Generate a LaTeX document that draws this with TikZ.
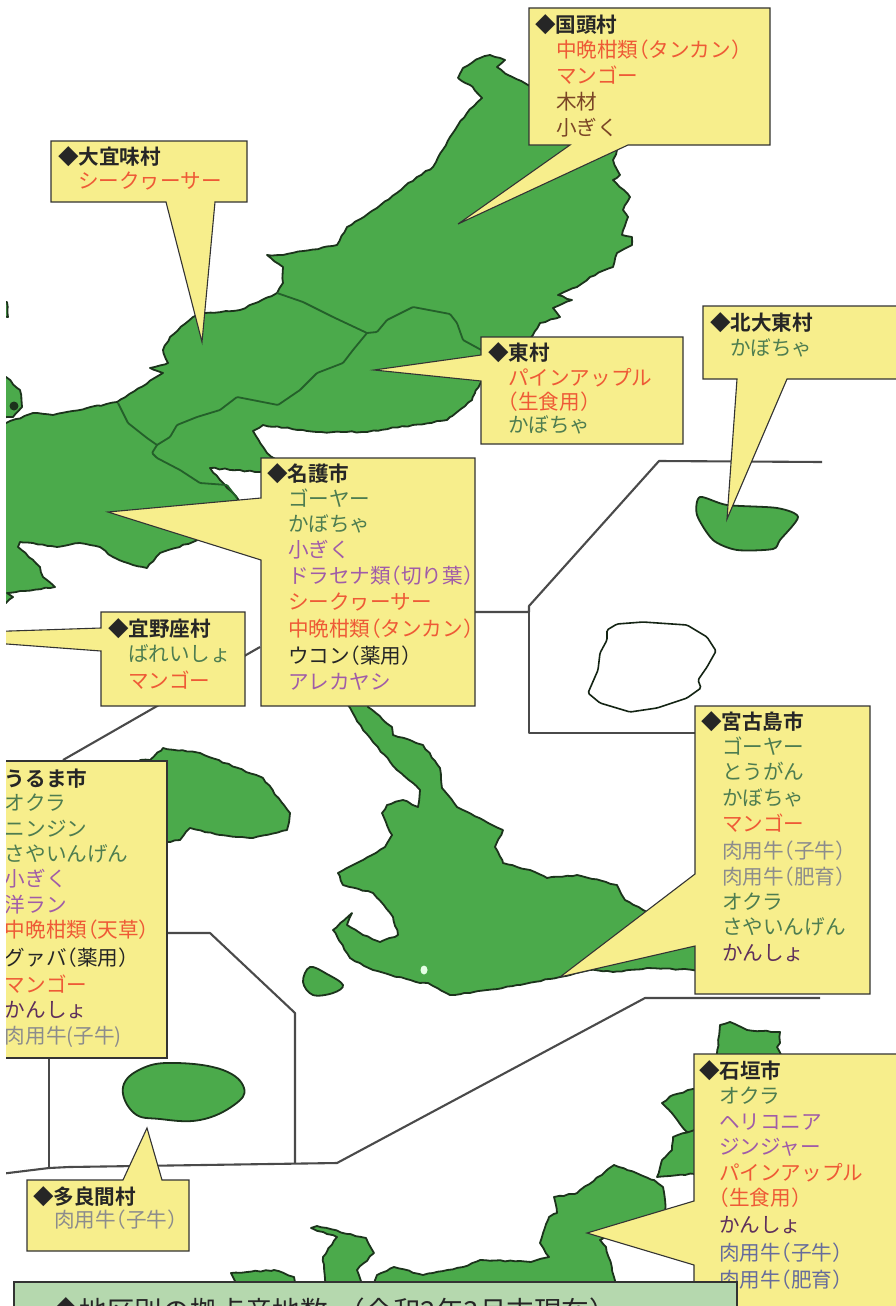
\documentclass[tikz,border=0pt]{standalone}
\usepackage{fontspec}
\usetikzlibrary{decorations.pathmorphing}
\setmainfont{Noto Sans CJK JP}
\newfontfamily\jpb{Noto Sans CJK JP Bold}
\newfontfamily\hw[RawFeature=+halt]{Noto Sans CJK JP}
\newcommand{\lp}{{\hw （}}
\newcommand{\rp}{{\hw ）}}
\definecolor{mapgreen}{HTML}{4BAA4B}
\definecolor{coast}{HTML}{1C331C}
\definecolor{border}{HTML}{24602A}
\definecolor{frameline}{HTML}{4A4A4A}
\definecolor{callfill}{HTML}{F7EE8C}
\definecolor{callline}{HTML}{333333}
\definecolor{panelfill}{HTML}{B5D8AE}
\definecolor{tgreen}{HTML}{4E7D50}
\definecolor{torange}{HTML}{EE5A36}
\definecolor{tpurple}{HTML}{A05CA8}
\definecolor{tblack}{HTML}{262626}
\definecolor{tbrown}{HTML}{7A4526}
\definecolor{tmaroon}{HTML}{5E2F5C}
\definecolor{tgray}{HTML}{8C8C8C}
\definecolor{tblue}{HTML}{666C9C}
\pgfmathsetseed{7}
\tikzset{
  isle/.style={fill=mapgreen,draw=coast,line width=1.8,line join=round,
    decorate,decoration={random steps,segment length=5,amplitude=0.7}},
  smoothisle/.style={fill=mapgreen,draw=coast,line width=1.8,line join=round},
  ward/.style={draw=border,line width=1.8,line join=round,rounded corners=1},
  frame/.style={draw=frameline,line width=2.1,line join=round},
  call/.style={fill=callfill,draw=callline,line width=1.1,line join=miter},
  lab/.style={anchor=base west,inner sep=0,outer sep=0,yshift=-1.2pt,font=\fontsize{20.6}{23}\selectfont},
  head/.style={lab,text=tblack,font=\fontsize{20.6}{23}\selectfont\jpb},
  it/.style={lab,text=#1}
}
\begin{document}
\begin{tikzpicture}[x=1pt,y=-1pt]
\useasboundingbox (0,0) rectangle (896,1306);
\fill[white] (0,0) rectangle (896,1306);
\begin{scope}
\clip (6,0) rectangle (896,1306);
% frames
\draw[frame] (63,760) -- (260,647);
\draw[frame] (470,612) -- (529,612) -- (529,606) -- (659,461) -- (822,462);
\draw[frame] (529,612) -- (529,733) -- (700,733);
\draw[frame] (160,933) -- (210,933) -- (295,1013) -- (295,1163);
\draw[frame] (49,1050) -- (49,1168);
\draw[frame] (0,1174) -- (49,1168) -- (69,1167) -- (337,1163) -- (645,998) -- (820,998);
% main island
\draw[isle] (458,78) -- (463,68) -- (480,58) -- (490,55) -- (505,60) -- (497,67) -- (508,75) -- (528,85) -- (560,110) -- (620,145)
 -- (613,160) -- (620,175) -- (613,180) -- (630,197) -- (623,210) -- (628,217) -- (622,235) -- (632,237) -- (632,245) -- (617,253)
 -- (613,267) -- (590,277) -- (577,287) -- (558,295) -- (572,300) -- (553,308) -- (560,317) -- (540,323) -- (533,335) -- (510,360)
 -- (481,382) -- (475,393) -- (472,400) -- (450,417) -- (447,420) -- (367,432) -- (317,432) -- (263,425) -- (253,431) -- (267,453)
 -- (278,462) -- (260,472) -- (210,468) -- (220,480) -- (233,493) -- (238,499) -- (240,520) -- (193,542) -- (160,553) -- (147,568)
 -- (133,565) -- (113,557) -- (100,547) -- (80,543) -- (57,547) -- (33,543) -- (20,542) -- (18,547) -- (40,567) -- (43,577) -- (55,587)
 -- (7,593) -- (13,597) -- (6,603) -- (-5,603) -- (-5,423) -- (6,423) -- (33,413) -- (53,415) -- (87,408) -- (117,402) -- (163,373)
 -- (150,368) -- (168,363) -- (163,350) -- (170,337) -- (193,317) -- (205,313) -- (240,310) -- (277,293) -- (283,283) -- (283,267)
 -- (267,255) -- (283,255) -- (337,245) -- (347,227) -- (377,208) -- (417,177) -- (433,167) -- (450,137) -- (458,125) -- (467,113)
 -- (482,98) -- (470,85) -- cycle;
\draw[ward] (277,293) -- (303,302) -- (333,317) -- (367,333);
\draw[ward] (367,333) -- (377,332) -- (387,320) -- (413,307) -- (450,314) -- (457,323) -- (463,340) -- (485,352);
\draw[ward] (367,333) -- (353,350) -- (343,363) -- (317,373) -- (300,390) -- (278,405) -- (237,397) -- (220,410) -- (197,417)
 -- (177,425) -- (170,437) -- (157,445) -- (152,453) -- (157,458) -- (180,470) -- (200,483) -- (227,485) -- (237,498);
\draw[ward] (118,403) -- (128,423) -- (147,438) -- (157,445);
% slivers at the left edge
\draw[isle] (-5,377) -- (6,377) -- (20,390) -- (22,407) -- (13,417) -- (-5,417) -- cycle;
\fill[coast] (14,406) circle (4.5);
\draw[isle] (-5,302) -- (7,302) -- (8,317) -- (-5,317) -- cycle;
% other islands
\draw[isle] (140,760) -- (150,760) -- (163,748) -- (200,753) -- (263,778) -- (290,813) -- (287,830) -- (253,838) -- (220,835)
 -- (190,828) -- (180,840) -- (167,842) -- (140,842) -- cycle;
\draw[isle] (345,700) -- (368,700) -- (368,707) -- (392,727) -- (393,735) -- (423,745) -- (440,768) -- (442,788) -- (457,807) -- (503,830)
 -- (495,847) -- (503,863) -- (530,870) -- (547,878) -- (577,875) -- (617,885) -- (625,900) -- (643,910) -- (700,935) -- (700,970)
 -- (647,968) -- (613,972) -- (590,970) -- (560,977) -- (517,985) -- (470,993) -- (450,995) -- (428,983) -- (420,983) -- (373,970)
 -- (350,958) -- (333,930) -- (352,913) -- (347,925) -- (363,935) -- (380,942) -- (398,935) -- (393,917) -- (373,893) -- (343,885)
 -- (338,873) -- (363,860) -- (385,847) -- (392,835) -- (382,813) -- (387,805) -- (403,800) -- (418,807) -- (420,790) -- (397,770)
 -- (373,742) -- (363,730) -- cycle;
\fill[green!10!white] (424,970) ellipse (3.5 and 4.5);
\draw[smoothisle] plot[smooth cycle,tension=0.6] coordinates {(303,982) (310,967) (327,974) (343,985) (333,993) (313,995)};
\draw[smoothisle] plot[smooth cycle,tension=0.45] coordinates {(697,515) (700,497) (727,505) (777,508) (798,517) (780,540) (773,549) (737,550) (713,540)};
\draw[line width=1.6,draw=coast!70!black,fill=white,rounded corners=1.5] (607,630) -- (617,624) -- (643,622) -- (687,625) -- (707,637) -- (716,651)
 -- (707,667) -- (698,680) -- (701,688) -- (687,698) -- (657,708) -- (630,712) -- (600,703) -- (588,693) -- (598,670) -- (600,653)
 -- (607,640) -- cycle;
\draw[smoothisle] plot[smooth cycle,tension=0.7] coordinates {(123,1087) (143,1068) (177,1063) (223,1070) (244,1088) (234,1105) (200,1120) (160,1119) (134,1113)};
\draw[isle] (720,1025) -- (730,1022) -- (747,1030) -- (780,1032) -- (780,1043) -- (777,1047) -- (783,1060) -- (717,1060) -- cycle;
\draw[isle] (662,1103) -- (673,1095) -- (700,1087) -- (700,1130) -- (687,1132) -- (675,1117) -- cycle;
\draw[isle] (657,1177) -- (662,1160) -- (672,1150) -- (673,1137) -- (700,1128) -- (700,1173) -- cycle;
\draw[isle] (614,1165) -- (654,1180) -- (663,1187) -- (666,1215) -- (600,1240) -- (606,1247) -- (614,1277) -- (617,1290) -- (371,1290)
 -- (377,1275) -- (394,1267) -- (423,1275) -- (463,1267) -- (480,1260) -- (531,1262) -- (549,1257) -- (540,1243) -- (549,1217)
 -- (557,1213) -- (554,1197) -- (577,1193) -- cycle;
\draw[isle] (311,1228) -- (317,1226) -- (366,1238) -- (374,1253) -- (357,1270) -- (363,1290) -- (326,1290) -- (323,1257) -- (337,1237) -- cycle;
\draw[isle] (231,1273) -- (274,1270) -- (294,1277) -- (297,1290) -- (240,1290) -- cycle;
% callouts
\draw[call] (529,8) -- (770,8) -- (770,145) -- (628,145) -- (458,224) -- (570,145) -- (529,145) -- cycle;
\draw[call] (51,141) -- (247,141) -- (247,202) -- (215,202) -- (202,342) -- (166,202) -- (51,202) -- cycle;
\draw[call] (481,337) -- (683,337) -- (683,444) -- (481,444) -- (481,381) -- (374,370) -- (481,355) -- cycle;
\draw[call] (703,306) -- (910,306) -- (910,379) -- (787,379) -- (727,519) -- (737,379) -- (703,379) -- cycle;
\draw[call] (261,458) -- (475,458) -- (475,706) -- (261,706) -- (261,560) -- (108,512) -- (261,498) -- cycle;
\draw[call] (101,612) -- (245,612) -- (245,706) -- (101,706) -- (101,651) -- (-20,642) -- (-20,632) -- (101,628) -- cycle;
\draw[call] (-20,761) -- (167,761) -- (167,1058) -- (-20,1058) -- cycle;
\draw[call] (695,706) -- (870,706) -- (870,994) -- (695,994) -- (695,946) -- (560,977) -- (695,874) -- cycle;
\draw[call] (27,1180) -- (123,1180) -- (147,1128) -- (162,1180) -- (189,1180) -- (189,1251) -- (27,1251) -- cycle;
\draw[call] (694,1054) -- (910,1054) -- (910,1320) -- (694,1320) -- (694,1265) -- (587,1233) -- (694,1201) -- cycle;
% labels
\node[head] (kh) at (535,31) {◆国頭村};
\node[it=torange] (k1) at (556,56) {中晩柑類\lp タンカン\rp};
\node[it=torange] (k2) at (556,82) {マンゴー};
\node[it=tbrown] (k3) at (556,108) {木材};
\node[it=tbrown] (k4) at (556,134) {小ぎく};
\node[head] (oh) at (58,163) {◆大宜味村};
\node[it=torange] (o1) at (78,187) {シークヮーサー};
\node[head] (hh) at (488,359) {◆東村};
\node[it=torange] (h1) at (508,384) {パインアップル};
\node[it=torange] (h2) at (508,408) {\lp 生食用\rp};
\node[it=tgreen] (h3) at (508,431) {かぼちゃ};
\node[head] (dh) at (710,329) {◆北大東村};
\node[it=tgreen] (d1) at (730,354) {かぼちゃ};
\node[head] (nh) at (267,480) {◆名護市};
\node[it=tgreen] (n1) at (288,505) {ゴーヤー};
\node[it=tgreen] (n2) at (288,530) {かぼちゃ};
\node[it=tpurple] (n3) at (288,556) {小ぎく};
\node[it=tpurple] (n4) at (288,582) {ドラセナ類\lp 切り葉\rp};
\node[it=torange] (n5) at (288,608) {シークヮーサー};
\node[it=torange] (n6) at (288,635) {中晩柑類\lp タンカン\rp};
\node[it=tblack] (n7) at (288,662) {ウコン\lp 薬用\rp};
\node[it=tpurple] (n8) at (288,688) {アレカヤシ};
\node[head] (gh) at (108,635) {◆宜野座村};
\node[it=tgreen] (g1) at (128,660) {ばれいしょ};
\node[it=torange] (g2) at (128,687) {マンゴー};
\node[head] (uh) at (5,785) {うるま市};
\node[it=tgreen] (u1) at (5,809) {オクラ};
\node[it=tgreen] (u2) at (5,835) {ニンジン};
\node[it=tgreen] (u3) at (5,860) {さやいんげん};
\node[it=tpurple] (u4) at (5,885) {小ぎく};
\node[it=tpurple] (u5) at (5,911) {洋ラン};
\node[it=torange] (u6) at (5,936) {中晩柑類\lp 天草\rp};
\node[it=tblack] (u7) at (5,964) {グァバ\lp 薬用\rp};
\node[it=torange] (u8) at (5,991) {マンゴー};
\node[it=tmaroon] (u9) at (5,1016) {かんしょ};
\node[it=tgray] (u10) at (5,1042) {肉用牛(子牛)};
\node[head] (mh) at (701,728) {◆宮古島市};
\node[it=tgreen] (m1) at (722,753) {ゴーヤー};
\node[it=tgreen] (m2) at (722,778) {とうがん};
\node[it=tgreen] (m3) at (722,804) {かぼちゃ};
\node[it=torange] (m4) at (722,830) {マンゴー};
\node[it=tgray] (m5) at (722,857) {肉用牛\lp 子牛\rp};
\node[it=tgray] (m6) at (722,883) {肉用牛\lp 肥育\rp};
\node[it=tgreen] (m7) at (722,908) {オクラ};
\node[it=tgreen] (m8) at (722,933) {さやいんげん};
\node[it=tmaroon] (m9) at (722,959) {かんしょ};
\node[head] (th) at (33,1203) {◆多良間村};
\node[it=tgray] (t1) at (54,1226) {肉用牛\lp 子牛\rp};
\node[head] (ih) at (699,1077) {◆石垣市};
\node[it=tgreen] (i1) at (719,1102) {オクラ};
\node[it=tpurple] (i2) at (719,1128) {ヘリコニア};
\node[it=tpurple] (i3) at (719,1153) {ジンジャー};
\node[it=torange] (i4) at (719,1179) {パインアップル};
\node[it=torange] (i5) at (719,1204) {\lp 生食用\rp};
\node[it=tmaroon] (i6) at (719,1231) {かんしょ};
\node[it=tblue] (i7) at (719,1259) {肉用牛\lp 子牛\rp};
\node[it=tblue] (i8) at (719,1286) {肉用牛\lp 肥育\rp};
% bottom panel
\draw[fill=panelfill,draw=callline,line width=1.1] (14,1282) rectangle (737,1340);
\node[lab,text=tblack,font=\fontsize{27.6}{30}\selectfont] (p) at (52,1320) {◆地区別の拠点産地数\hspace{10pt}（令和2年3月末現在）};
\end{scope}
\end{tikzpicture}
\end{document}
